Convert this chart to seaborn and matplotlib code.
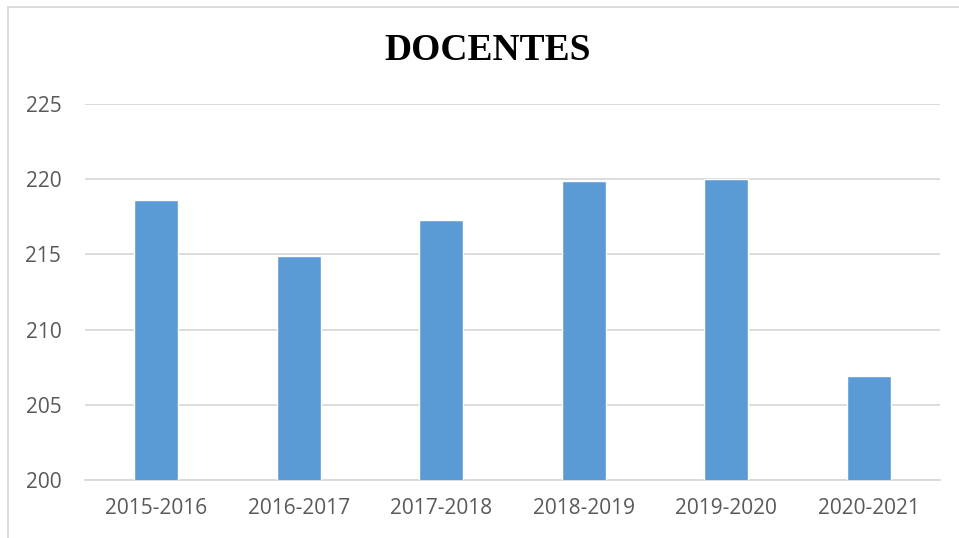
import pandas as pd
import numpy as np
import matplotlib
matplotlib.use('Agg')
import matplotlib.pyplot as plt
import seaborn as sns
from matplotlib.lines import Line2D

#%% data
cursos = ['2015-2016', '2016-2017', '2017-2018', '2018-2019', '2019-2020', '2020-2021']
docentes = [218.6, 214.9, 217.3, 219.9, 220.0, 206.9]
y_ticks = [200, 205, 210, 215, 220, 225]

df = pd.DataFrame({'curso': cursos, 'docentes': docentes})

#%% plot
sns.set_style('white')
plt.rcParams['font.family'] = ['Open Sans', 'DejaVu Sans']

fig = plt.figure(figsize=(9.59, 5.38), dpi=100)
ax = fig.add_axes([0.0886, 0.1078, 0.8916, 0.6989])

sns.barplot(data=df, x='curso', y='docentes', color='#5b9bd5', saturation=1,
            width=0.31, ax=ax, zorder=3)

ax.set_ylim(200, 225)
ax.set_yticks(y_ticks)
ax.set_xlim(-0.5, len(cursos) - 0.5)
ax.grid(axis='y', color='#d9d9d9', linewidth=1.3, zorder=0)
for s in ['top', 'right', 'left']:
    ax.spines[s].set_visible(False)
ax.spines['bottom'].set_color('#d9d9d9')
ax.spines['bottom'].set_linewidth(1.3)
ax.tick_params(axis='y', length=0, pad=17, labelsize=15, labelcolor='#595959')
ax.tick_params(axis='x', length=0, pad=13, labelsize=15, labelcolor='#595959')
ax.set_xlabel('')
ax.set_ylabel('')

fig.text(488 / 959, 1 - 51 / 538, 'DOCENTES', ha='center', va='center', color='black',
         fontsize=27, fontweight='bold', family=['Liberation Serif', 'DejaVu Serif'])

# chart frame (top and left edges)
fig.add_artist(Line2D([8 / 959, 8 / 959], [0, 1 - 7 / 538], color='#d9d9d9', linewidth=1.3))
fig.add_artist(Line2D([8 / 959, 1], [1 - 7 / 538, 1 - 7 / 538], color='#d9d9d9', linewidth=1.3))

fig.savefig('out.png', dpi=100)
